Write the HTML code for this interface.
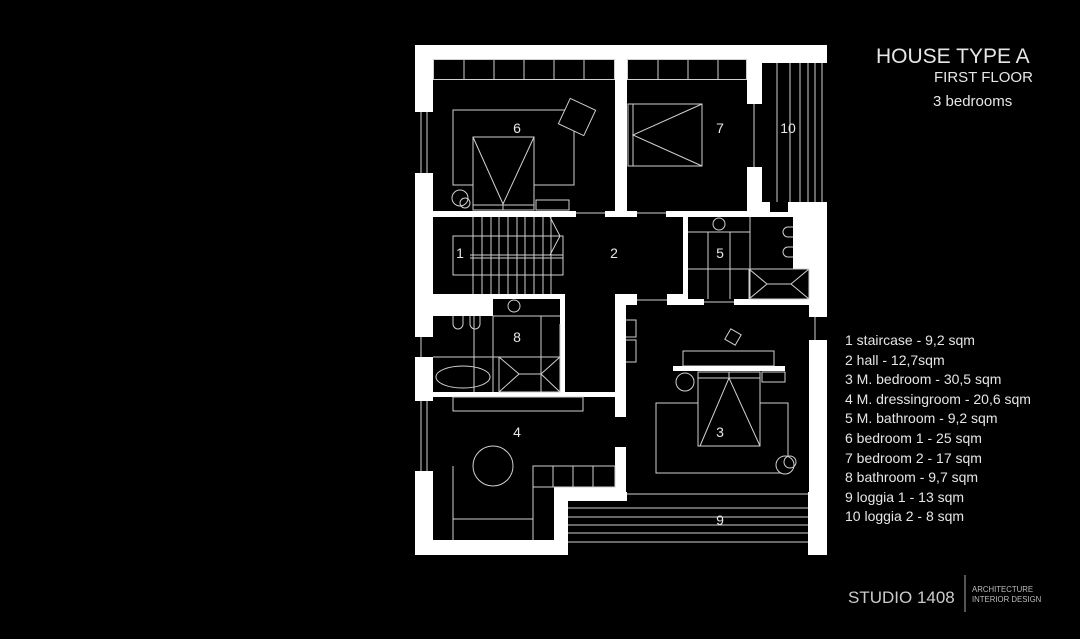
<!DOCTYPE html>
<html><head><meta charset="utf-8"><style>
html,body{margin:0;padding:0;background:#000;}
svg{display:block;}
text{font-family:"Liberation Sans",sans-serif;fill:#e6e6e6;}
</style></head><body>
<svg width="1080" height="639" viewBox="0 0 1080 639" xmlns="http://www.w3.org/2000/svg">
<rect width="1080" height="639" fill="#000"/>
<rect x="415" y="45" width="412" height="510" fill="#fff"/>
<g fill="#000">
<rect x="433" y="59" width="182" height="152"/>
<rect x="627" y="59" width="120" height="152"/>
<rect x="762" y="63" width="65" height="139"/>
<rect x="770" y="202" width="18" height="10"/>
<rect x="433" y="217" width="130" height="77"/>
<rect x="563" y="217" width="120" height="77"/>
<rect x="565" y="294" width="50" height="98"/>
<rect x="576" y="210" width="29" height="8"/>
<rect x="637" y="210" width="29" height="8"/>
<rect x="637" y="294" width="30" height="12"/>
<rect x="688" y="217" width="105" height="82"/>
<rect x="749" y="269" width="60" height="30"/>
<rect x="704" y="299" width="30" height="7"/>
<rect x="433" y="316" width="127" height="76"/>
<rect x="493" y="299" width="67" height="17"/>
<rect x="433" y="397" width="182" height="90"/>
<rect x="433" y="487" width="121" height="53"/>
<rect x="626" y="305" width="183" height="187"/>
<rect x="615" y="417" width="12" height="30"/>
<rect x="627" y="492" width="181" height="10"/>
<rect x="568" y="501" width="240" height="55"/>
<rect x="415" y="112" width="18" height="61"/>
<rect x="747" y="104" width="15" height="63"/>
<rect x="415" y="337" width="18" height="20"/>
<rect x="415" y="401" width="18" height="70"/>
<rect x="809" y="317" width="18" height="23"/>
</g>
<g fill="none" stroke="#d0d0d0" stroke-width="1">
<line x1="421" y1="112" x2="421" y2="173"/><line x1="427" y1="112" x2="427" y2="173"/>
<line x1="754" y1="104" x2="754" y2="167"/><line x1="421" y1="401" x2="421" y2="471"/><line x1="427" y1="401" x2="427" y2="471"/>
<line x1="421" y1="337" x2="421" y2="357"/><line x1="815" y1="317" x2="815" y2="340"/>
<rect x="433.5" y="59.5" width="181" height="20"/>
<path d="M464 59v20M494 59v20M524 59v20M554 59v20M584 59v20"/>
<rect x="453" y="110" width="121" height="75"/>
<rect x="473" y="137" width="61" height="73" fill="#000"/>
<path d="M473 137L503 204L534 137M473 205H534M503 205v5"/>
<rect x="563" y="103" width="28" height="28" transform="rotate(25 577 117)" fill="#000"/>
<circle cx="460" cy="198" r="8"/><circle cx="465" cy="203" r="5"/>
<rect x="536" y="200" width="33" height="10"/>
<rect x="627.5" y="59.5" width="119" height="20"/>
<path d="M658 59v20M688 59v20M718 59v20"/>
<rect x="628" y="104" width="74" height="62"/>
<path d="M702 104L633 135L702 166M633 104v62"/>
<path d="M777 63v139M790 63v139M800 63v139M808 63v139M815 63v139M822 63v139"/>
<path d="M473 217v77M482 217v77M491 217v77M499 217v77M508 217v77M517 217v77M525 217v77M534 217v77M543 217v77M551 217v77"/>
<rect x="453" y="236" width="110" height="39"/>
<path d="M470 255H563M470 258H563M550 217L560 236L550 255"/>
<path d="M688 232H750M750 217v82M708 232v67M730 232v67M688 269H793"/>
<rect x="749" y="269" width="60" height="30"/>
<path d="M749 269L767 284L749 299M809 269L791 284L809 299M767 284H791"/>
<path d="M793 227h-5a5 5 0 0 0 0 10h5M793 247h-5a5 5 0 0 0 0 10h5"/>
<circle cx="719" cy="224" r="6"/>
<path d="M576 213H605M637 213H666M637 300H667M704 302H734"/>
<path d="M433 357H560M474 316v76M493 316v76M541 316v76M493 316H560"/>
<circle cx="514" cy="306" r="6"/>
<path d="M453 316v8a5 5 0 0 0 10 0v-8M470 316v8a5 5 0 0 0 10 0v-8"/>
<ellipse cx="463" cy="377" rx="27" ry="11"/>
<rect x="499" y="357" width="61" height="35"/>
<path d="M499 392L519 374L499 357M560 392L541 374L560 357M519 374H541M560 324v38"/>
<rect x="453" y="397" width="130" height="14"/>
<circle cx="493" cy="466" r="20"/>
<rect x="533" y="466" width="82" height="21"/>
<path d="M553 466v21M573 466v21M593 466v21M453 466v74M533 487v53M453 519H533"/>
<path d="M626 320h10v17h-10M626 340h10v22h-10"/>
<rect x="683" y="351" width="91" height="15"/>
<rect x="673" y="366" width="112" height="5" fill="#fff" stroke="none"/>
<rect x="656" y="403" width="132" height="70"/>
<rect x="698" y="372" width="62" height="74" fill="#000"/>
<path d="M698 378H760M729 372v6M729 378L700 446M729 378L760 446"/>
<rect x="762" y="372" width="23" height="10"/>
<circle cx="685" cy="382" r="9"/>
<rect x="727" y="331" width="12" height="12" transform="rotate(30 733 337)"/>
<circle cx="785" cy="465" r="9" fill="#000"/><circle cx="790" cy="462" r="6"/>
<path d="M627 494H808M568 508H808M568 517H808M568 525H808M568 533H808M568 542H808"/>
</g>
<g font-size="14" text-anchor="middle" style="fill:#ddd">
<text x="517" y="133">6</text><text x="720" y="133">7</text><text x="788" y="133">10</text>
<text x="460" y="258">1</text><text x="614" y="258">2</text><text x="720" y="258">5</text>
<text x="517" y="342">8</text><text x="517" y="437">4</text><text x="720" y="437">3</text>
<text x="720" y="525">9</text>
</g>
<text x="876" y="63" font-size="21">HOUSE TYPE A</text>
<text x="934" y="82" font-size="15">FIRST FLOOR</text>
<text x="933" y="106" font-size="15">3 bedrooms</text>
<g font-size="14">
<text x="845" y="345">1 staircase - 9,2 sqm</text>
<text x="845" y="365">2 hall - 12,7sqm</text>
<text x="845" y="384">3 M. bedroom - 30,5 sqm</text>
<text x="845" y="404">4 M. dressingroom -  20,6 sqm</text>
<text x="845" y="423">5 M. bathroom - 9,2 sqm</text>
<text x="845" y="443">6 bedroom 1 - 25 sqm</text>
<text x="845" y="463">7 bedroom 2 - 17 sqm</text>
<text x="845" y="482">8 bathroom - 9,7 sqm</text>
<text x="845" y="502">9 loggia 1 - 13 sqm</text>
<text x="845" y="521">10 loggia 2 - 8 sqm</text>
</g>
<text x="848" y="603" font-size="17" style="fill:#ccc">STUDIO 1408</text>
<line x1="965" y1="575" x2="965" y2="612" stroke="#aaa"/>
<text x="972" y="592" font-size="7.8" style="fill:#bbb">ARCHITECTURE</text>
<text x="972" y="602" font-size="7.8" style="fill:#bbb">INTERIOR DESIGN</text>
</svg>
</body></html>
